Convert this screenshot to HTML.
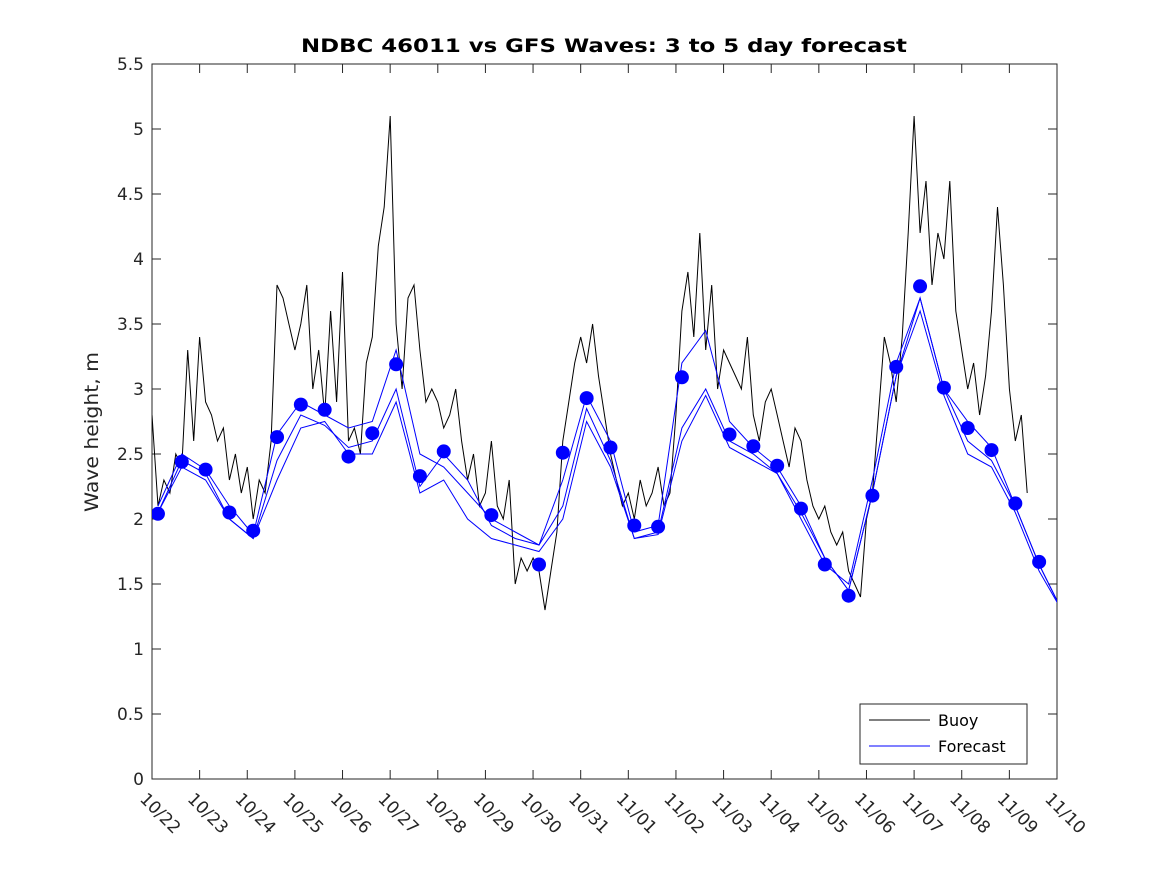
<!DOCTYPE html>
<html><head><meta charset="utf-8"><style>
body{margin:0;background:#fff}
svg text{font-family:"DejaVu Sans","Liberation Sans",sans-serif;fill:#262626}
</style></head><body>
<svg id="chart" width="1167" height="875" viewBox="0 0 1167 875" xmlns="http://www.w3.org/2000/svg">
<rect width="1167" height="875" fill="#fff"/>
<defs><clipPath id="clip"><rect x="152" y="64" width="905" height="715"/></clipPath></defs>
<g id="axes"></g>
<g id="series" clip-path="url(#clip)"></g>
<text x="604" y="52" text-anchor="middle" font-size="19" font-weight="bold" textLength="606" lengthAdjust="spacingAndGlyphs" style="fill:#000">NDBC 46011 vs GFS Waves: 3 to 5 day forecast</text>
<text transform="translate(98,432) rotate(-90)" text-anchor="middle" font-size="19" textLength="160" lengthAdjust="spacingAndGlyphs">Wave height, m</text>
<g>
<rect x="860" y="704" width="167" height="60" fill="#fff" stroke="#262626" stroke-width="1"/>
<line x1="869" y1="720" x2="930" y2="720" stroke="#000" stroke-width="1"/>
<text x="938" y="726" font-size="16" style="fill:#000">Buoy</text>
<line x1="869" y1="746" x2="930" y2="746" stroke="#00f" stroke-width="1"/>
<text x="938" y="752" font-size="16" style="fill:#000">Forecast</text>
</g>
</svg>
<script>
const xTickLabels=["10/22","10/23","10/24","10/25","10/26","10/27","10/28","10/29","10/30","10/31","11/01","11/02","11/03","11/04","11/05","11/06","11/07","11/08","11/09","11/10"];
const yTicks=[0,0.5,1,1.5,2,2.5,3,3.5,4,4.5,5,5.5];
// buoy: every 3 hours from 10/22 00:00
const buoy=[2.8,2.1,2.3,2.2,2.5,2.4,3.3,2.6,
3.4,2.9,2.8,2.6,2.7,2.3,2.5,2.2,
2.4,2.0,2.3,2.2,2.6,3.8,3.7,3.5,
3.3,3.5,3.8,3.0,3.3,2.8,3.6,2.9,
3.9,2.6,2.7,2.5,3.2,3.4,4.1,4.4,
5.1,3.5,3.0,3.7,3.8,3.3,2.9,3.0,
2.9,2.7,2.8,3.0,2.6,2.3,2.5,2.1,
2.2,2.6,2.1,2.0,2.3,1.5,1.7,1.6,
1.7,1.6,1.3,1.6,1.9,2.6,2.9,3.2,
3.4,3.2,3.5,3.1,2.8,2.5,2.3,2.1,
2.2,2.0,2.3,2.1,2.2,2.4,2.1,2.2,
2.8,3.6,3.9,3.4,4.2,3.3,3.8,3.0,
3.3,3.2,3.1,3.0,3.4,2.8,2.6,2.9,
3.0,2.8,2.6,2.4,2.7,2.6,2.3,2.1,
2.0,2.1,1.9,1.8,1.9,1.6,1.5,1.4,
2.0,2.2,2.8,3.4,3.2,2.9,3.4,4.2,
5.1,4.2,4.6,3.8,4.2,4.0,4.6,3.6,
3.3,3.0,3.2,2.8,3.1,3.6,4.4,3.8,
3.0,2.6,2.8,2.2];
// forecast values every 12 h starting 10/22 03:00
const dots=[2.04,2.44,2.38,2.05,1.91,2.63,2.88,2.84,2.48,2.66,3.19,2.33,2.52,null,2.03,null,1.65,2.51,2.93,2.55,1.95,1.94,3.09,null,2.65,2.56,2.41,2.08,1.65,1.41,2.18,3.17,3.79,3.01,2.70,2.53,2.12,1.67];
const fcA=[2.1,2.5,2.38,2.1,1.88,2.65,2.9,2.8,2.7,2.75,3.3,2.5,2.4,2.2,2.0,1.9,1.8,2.3,2.95,2.6,1.9,1.95,3.2,3.45,2.75,2.55,2.4,2.1,1.7,1.45,2.2,3.1,3.7,3.0,2.75,2.55,2.1,1.65,1.28];
const fcB=[2.05,2.45,2.35,2.0,1.85,2.45,2.8,2.72,2.55,2.6,3.0,2.25,2.5,2.3,1.95,1.85,1.8,2.1,2.85,2.45,1.85,1.9,2.7,3.0,2.6,2.5,2.35,2.0,1.65,1.5,2.3,3.2,3.7,3.0,2.6,2.45,2.1,1.65,1.28];
const fcC=[2.05,2.4,2.3,2.0,1.85,2.3,2.7,2.75,2.5,2.5,2.9,2.2,2.3,2.0,1.85,1.8,1.75,2.0,2.75,2.4,1.85,1.88,2.6,2.95,2.55,2.45,2.35,2.05,1.7,1.45,2.2,3.1,3.6,2.95,2.5,2.4,2.05,1.6,1.28];

const X0=152,X1=1057,Y0=779,Y1=64,DAYS=19,YMAX=5.5;
const xs=t=>X0+(X1-X0)*t/DAYS;
const ys=v=>Y0-(Y0-Y1)*v/YMAX;
const NS="http://www.w3.org/2000/svg";
function mk(tag,attrs,parent){const e=document.createElementNS(NS,tag);for(const k in attrs)e.setAttribute(k,attrs[k]);parent.appendChild(e);return e;}
const axes=document.getElementById('axes'),ser=document.getElementById('series');
const box=mk('rect',{x:X0,y:Y1,width:X1-X0,height:Y0-Y1,fill:'none',stroke:'#262626','stroke-width':1},axes);


yTicks.forEach(v=>{
  const y=ys(v);
  mk('line',{x1:X0,y1:y,x2:X0+9,y2:y,stroke:'#262626'},axes);
  mk('line',{x1:X1,y1:y,x2:X1-9,y2:y,stroke:'#262626'},axes);
  const t=mk('text',{x:X0-8,y:y+6,'text-anchor':'end','font-size':17},axes);
  t.textContent=String(v);
  
  
});
xTickLabels.forEach((lab,i)=>{
  const x=xs(i);
  mk('line',{x1:x,y1:Y0,x2:x,y2:Y0-9,stroke:'#262626'},axes);
  mk('line',{x1:x,y1:Y1,x2:x,y2:Y1+9,stroke:'#262626'},axes);
  const t=mk('text',{x:x-13,y:800,'font-size':17,transform:`rotate(45 ${x-13} 800)`},axes);
  t.textContent=lab;
  
  
});
const bp=buoy.map((v,i)=>`${xs(i/8).toFixed(1)},${ys(v).toFixed(1)}`).join(' ');
const bl=mk('polyline',{points:bp,fill:'none',stroke:'#000','stroke-width':1},ser);


[fcA,fcB,fcC].forEach((arr,k)=>{
  const p=arr.map((v,i)=>`${xs(0.125+0.5*i).toFixed(1)},${ys(v).toFixed(1)}`).join(' ');
  const l=mk('polyline',{points:p,fill:'none',stroke:'#00f','stroke-width':1},ser);
  
  
});
dots.forEach((v,i)=>{
  if(v===null)return;
  const c=mk('circle',{cx:xs(0.125+0.5*i),cy:ys(v),r:7,fill:'#00f'},ser);
  
  
});
</script>
</body></html>
